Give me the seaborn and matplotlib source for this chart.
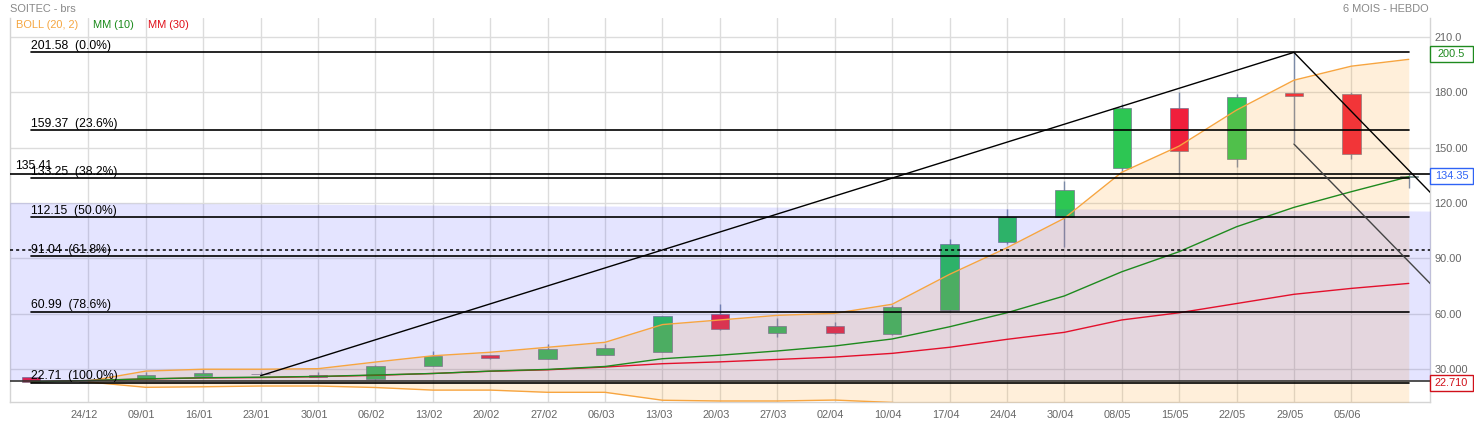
import matplotlib
matplotlib.use("Agg")
import numpy as np
import pandas as pd
import seaborn as sns
import matplotlib.pyplot as plt
from matplotlib.patches import Rectangle
from matplotlib.transforms import blended_transform_factory, ScaledTranslation

# weekly candles, 17/12 -> 12/06
weeks = ["17/12", "24/12", "09/01", "16/01", "23/01", "30/01", "06/02", "13/02",
         "20/02", "27/02", "06/03", "13/03", "20/03", "27/03", "02/04", "10/04",
         "17/04", "24/04", "30/04", "08/05", "15/05", "22/05", "29/05", "05/06", "12/06"]
opens = [25.6, 23.0, 24.8, 26.4, 27.25, 26.9, 24.8, 31.8, 37.4, 35.6, 37.8, 39.4, 59.6,
         49.7, 53.3, 49.2, 61.8, 99.0, 112.5, 139.1, 171.2, 143.6, 179.5, 178.8, 134.0]
closes = [22.9, 23.2, 26.9, 27.9, 27.35, 25.8, 31.8, 37.1, 36.1, 40.8, 41.4, 58.7, 51.5,
          53.3, 49.7, 63.6, 97.7, 112.2, 126.8, 171.4, 147.9, 177.3, 177.9, 146.3, 134.35]
highs = [25.8, 23.4, 28.5, 30.2, 28.2, 28.4, 32.2, 39.8, 37.8, 43.6, 43.4, 59.0, 65.3,
         57.6, 55.5, 64.5, 100.4, 116.7, 131.9, 173.4, 180.1, 179.0, 201.58, 180.0, 135.5]
lows = [22.7, 22.8, 24.5, 26.2, 27.0, 25.6, 24.3, 31.5, 35.4, 35.4, 37.6, 39.2, 51.3,
        47.5, 48.8, 48.5, 61.5, 97.7, 96.3, 136.7, 136.3, 139.7, 152.3, 144.0, 127.9]

# indicators
boll_up = [None, 23.5, 28.9, 29.9, 29.9, 30.2, 33.8, 37.2, 39.1, 41.8, 44.5, 54.1, 56.6,
           59.1, 60.2, 65.1, 81.3, 95.7, 111.7, 136.6, 150.8, 170.3, 186.5, 194.1, 197.8]
boll_low = [None, 23.0, 20.1, 20.4, 20.8, 20.8, 20.0, 18.6, 18.6, 17.4, 17.4, 13.1, 12.7,
            12.7, 13.2, 11.9, 8.0, 3.0, -2.0, -8.0, -10.0, -12.0, -14.0, -15.0, -16.0]
mm10 = [23.0, 23.8, 24.7, 25.3, 25.6, 26.0, 26.8, 27.6, 28.9, 29.8, 31.4, 35.6, 37.5,
        39.8, 42.5, 46.3, 52.9, 60.5, 69.6, 82.7, 93.6, 107.1, 117.6, 126.1, 134.2]
mm30 = [23.0, 23.8, 24.6, 25.2, 25.4, 25.9, 26.6, 27.6, 28.8, 29.6, 31.1, 32.9, 33.9,
        35.2, 36.5, 38.5, 41.8, 46.1, 49.9, 56.6, 60.5, 65.5, 70.5, 73.7, 76.4]

# drawings
fib_levels = [201.58, 159.37, 133.25, 112.15, 91.04, 60.99, 22.71]
fib_labels = ["201.58  (0.0%)", "159.37  (23.6%)", "133.25  (38.2%)", "112.15  (50.0%)",
              "91.04  (61.8%)", "60.99  (78.6%)", "22.71  (100.0%)"]
support_level = 135.41
dotted_level = 94.5
low_level = 23.4
trend_x = [4, 22, 24.4]
trend_y = [26.4, 201.58, 124.9]
channel_x = [22, 24.4]
channel_y = [151.9, 75.5]
zone_x = [-0.37, 24.38]
zone_top = [120.3, 115.6]
zone_bottom = [24.1, 24.1]
yticks = [30, 60, 90, 120, 150, 180, 210]
ytick_labels = ["30.000", "60.00", "90.00", "120.00", "150.00", "180.00", "210.0"]
tags = [(200.5, "200.5", "#1f8a1f"), (134.35, "134.35", "#2f63f5"), (22.71, "22.710", "#d0101a")]

sns.set_theme(style="white")
plt.rcParams['font.family'] = ['Liberation Sans', 'DejaVu Sans']

df = pd.DataFrame({"i": np.arange(len(weeks)), "open": opens, "close": closes,
                   "high": highs, "low": lows, "mm10": mm10, "mm30": mm30,
                   "up": pd.array(boll_up, dtype="Float64"),
                   "lo": pd.array(boll_low, dtype="Float64")})

fig = plt.figure(figsize=(14.74, 4.26), dpi=100)
ax = fig.add_axes([10 / 1474, 24 / 426, 1420 / 1474, 384 / 426])

small = 7.9

# candles
up = df["close"] >= df["open"]
cols = np.where(up, "#2dc653", "#f01f3c")
ax.vlines(df["i"], df["low"], df["high"], color="#7b8ba8", lw=1, zorder=2)
ax.bar(df["i"], df["close"] - df["open"], bottom=df["open"], width=0.32, color=cols,
       edgecolor=(0.45, 0.45, 0.55, 0.7), linewidth=0.7, zorder=2.5)

# bollinger band fill + blue zone
b = df.dropna(subset=["up"])
ax.fill_between(b["i"].to_numpy(), b["lo"].to_numpy(float), b["up"].to_numpy(float),
                color=(1, 0.647, 0.157), alpha=0.17, lw=0, zorder=3)
ax.fill_between(zone_x, zone_bottom, zone_top, color=(0.2, 0.2, 1.0), alpha=0.13,
                lw=0, zorder=4)

sns.lineplot(x=b["i"], y=b["up"].astype(float), ax=ax, color="#f7a540", lw=1, zorder=6)
sns.lineplot(x=b["i"], y=b["lo"].astype(float), ax=ax, color="#f7a540", lw=1, zorder=6)
sns.lineplot(data=df, x="i", y="mm30", ax=ax, color="#e3102c", lw=1, zorder=6)
sns.lineplot(data=df, x="i", y="mm10", ax=ax, color="#1e8a1e", lw=1, zorder=6)

# fibonacci retracement
for lev, lab in zip(fib_levels, fib_labels):
    ax.plot([0, len(weeks) - 1], [lev, lev], color="black", lw=1.2, zorder=7)
    ax.annotate(lab, (0, lev), xytext=(0, 0.5), textcoords="offset points",
                fontsize=8.7, color="black", va="bottom", ha="left", zorder=8)

ax.axhline(support_level, color="black", lw=1.2, zorder=7)
ax.annotate(f"{support_level:.2f}", (-0.27, support_level), xytext=(0, 2),
            textcoords="offset points", fontsize=8.7, color="black", va="bottom", zorder=8)
ax.axhline(dotted_level, color="black", lw=1.1, ls=(0, (2, 2)), zorder=7)
ax.axhline(low_level, color="#333333", lw=1.2, zorder=7)
ax.plot(trend_x, trend_y, color="black", lw=1, zorder=7)
ax.plot(channel_x, channel_y, color="#444444", lw=1, zorder=7)

ax.set_xlim(-0.366, 24.37)
ax.set_ylim(12.15, 220.2)
ax.set_xlabel("")
ax.set_ylabel("")

ax.set_xticks(range(1, len(weeks) - 1))
ax.set_xticklabels(weeks[1:-1])
ax.yaxis.tick_right()
ax.set_yticks(yticks)
ax.set_yticklabels(ytick_labels)
ax.tick_params(axis="both", length=0, labelsize=small, labelcolor="#666666")
ax.tick_params(axis="x", pad=6)
ax.tick_params(axis="y", pad=3)
for lbl in ax.get_xticklabels():
    lbl.set_transform(lbl.get_transform() + ScaledTranslation(-0.04, 0, fig.dpi_scale_trans))

ax.grid(True, color="#dcdcdc", lw=1)
ax.set_axisbelow(True)
for s in ["left", "bottom", "right"]:
    ax.spines[s].set_color("#d4d4d4")
    ax.spines[s].set_linewidth(1)
ax.spines["top"].set_visible(False)

# value tags on the right axis
tr = blended_transform_factory(ax.transAxes, ax.transData)
box_w = 43 / 1420
box_h = 16 / 1.846
for val, txt, c in tags:
    ax.add_patch(Rectangle((1.0, val - box_h / 2), box_w, box_h, transform=tr,
                           fc="white", ec=c, lw=1, clip_on=False, zorder=10))
    ax.text(1.0 + box_w / 2, val, txt, transform=tr, ha="center", va="center",
            fontsize=small, color=c, clip_on=False, zorder=11)

# header and legend
fig.text(10 / 1474, 1 - 9 / 426, "SOITEC - brs", color="#888888", fontsize=small, va="center")
fig.text(1429 / 1474, 1 - 9 / 426, "6 MOIS - HEBDO", color="#888888", fontsize=small,
         va="center", ha="right")
fig.text(16 / 1474, 1 - 25 / 426, "BOLL (20, 2)", color="#f5a640", fontsize=small, va="center")
fig.text(93 / 1474, 1 - 25 / 426, "MM (10)", color="#1a8a1a", fontsize=small, va="center")
fig.text(148 / 1474, 1 - 25 / 426, "MM (30)", color="#e0101a", fontsize=small, va="center")

fig.savefig("out.png", dpi=100, facecolor="white")
